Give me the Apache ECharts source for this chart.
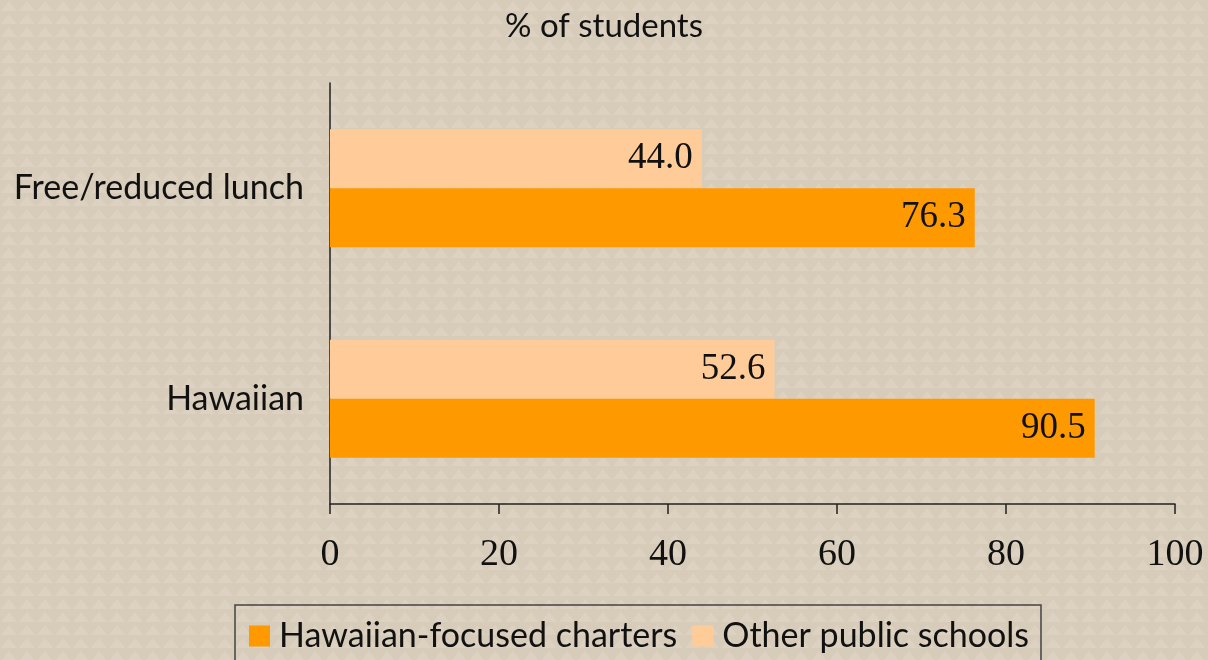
<!DOCTYPE html>
<html>
<head>
<meta charset="UTF-8">
<title></title>
<style>
	html, body { margin: 0; padding: 0; }
	#main { width: 1208px; height: 660px; }
</style>
</head>
<body>
<div id="main"></div>
<script src="https://cdn.jsdelivr.net/npm/echarts@6/dist/echarts.min.js"></script>
<script>
	// data
	var categories = ['Hawaiian', 'Free/reduced lunch'];
	var charters = [90.5, 76.3];
	var otherSchools = [52.6, 44.0];
	var seriesNames = ['Hawaiian-focused charters', 'Other public schools'];

	// background texture (small triangles)
	var tile = document.createElement('canvas');
	tile.width = 18;
	tile.height = 13;
	var ctx = tile.getContext('2d');
	ctx.fillStyle = '#d7cbb9';
	ctx.fillRect(0, 0, 18, 13);
	ctx.fillStyle = '#ddd2c2';
	ctx.beginPath();
	ctx.moveTo(9, 1);
	ctx.lineTo(17, 11);
	ctx.lineTo(1, 11);
	ctx.closePath();
	ctx.fill();

	var textFont = 'Lato';
	var numFont = 'Liberation Serif';

	function barLabel() {
		return {
			show: true,
			position: 'insideRight',
			distance: 9,
			formatter: function(p) { return p.value.toFixed(1); },
			fontFamily: numFont, fontSize: 37, color: '#111'
		};
	}

	var myChart = echarts.init(document.getElementById('main'));
	var option = {
		backgroundColor: { image: tile, repeat: 'repeat' },
		animation: false,
		title: {
			text: '% of students',
			left: 'center',
			top: 5,
			textStyle: { fontFamily: textFont, fontSize: 33, fontWeight: 'normal', color: '#111' }
		},
		legend: {
			data: seriesNames,
			icon: 'rect',
			left: 235,
			top: 605,
			padding: [14, 12, 20, 14],
			itemGap: 15,
			itemWidth: 21,
			itemHeight: 21,
			borderColor: '#444',
			borderWidth: 1.5,
			textStyle: { fontFamily: textFont, fontSize: 34, color: '#111', padding: [0, 0, 0, 4] }
		},
		grid: {
			left: 330,
			right: 33,
			top: 83,
			bottom: 156
		},
		xAxis: {
			type: 'value',
			min: 0,
			max: 100,
			interval: 20,
			splitLine: { show: false },
			axisLine: { show: true, lineStyle: { color: '#222', width: 1.5 } },
			axisTick: { show: true, length: 10, lineStyle: { color: '#222', width: 1.5 } },
			axisLabel: { fontFamily: numFont, fontSize: 38, color: '#111', margin: 32 }
		},
		yAxis: {
			type: 'category',
			data: categories,
			axisLine: { show: true, lineStyle: { color: '#222', width: 1.5 } },
			axisTick: { show: false },
			axisLabel: { fontFamily: textFont, fontSize: 34, color: '#111', margin: 26 }
		},
		series: [{
			name: seriesNames[1],
			type: 'bar',
			data: otherSchools,
			barWidth: 59,
			barGap: '0%',
			itemStyle: { color: '#ffcc99' },
			label: barLabel()
		}, {
			name: seriesNames[0],
			type: 'bar',
			data: charters,
			barWidth: 59,
			barGap: '0%',
			itemStyle: { color: '#ff9900' },
			label: barLabel()
		}]
	};
	myChart.setOption(option);
</script>
</body>
</html>
